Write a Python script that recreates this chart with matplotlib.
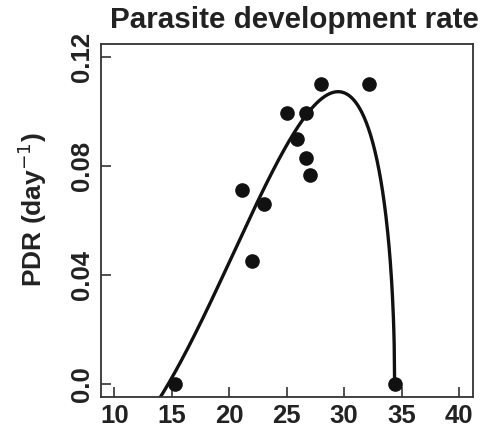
import numpy as np
import matplotlib
matplotlib.use("Agg")
import matplotlib.pyplot as plt

plt.rcParams['font.family'] = ['Liberation Sans', 'DejaVu Sans']

# Observed data points (temperature, PDR)
temp = [15.3, 21.1, 22.0, 23.0, 25.0, 25.9, 26.7, 26.7, 27.0, 28.0, 32.2, 34.4]
pdr = [0.0, 0.071, 0.045, 0.066, 0.0995, 0.090, 0.0995, 0.083, 0.0765, 0.110, 0.110, 0.0]

# Briere fit parameters
c_par = 0.000111
T0 = 14.7
Tm = 34.4

xticks = [10, 15, 20, 25, 30, 35, 40]
yticks = [0.0, 0.04, 0.08, 0.12]
ytick_labels = ["0.0", "0.04", "0.08", "0.12"]

fig = plt.figure(figsize=(4.81, 4.33), dpi=100)
ax = fig.add_axes([0.2094, 0.0838, 0.7733, 0.8146])

T = np.linspace(12.0, Tm, 600)
rate = c_par * T * (T - T0) * np.sqrt(np.clip(Tm - T, 0, None))
ax.plot(T, rate, color='#111111', lw=2.4, solid_capstyle='round')
ax.plot(temp, pdr, 'o', color='#111111', markersize=9.5, clip_on=False)

ax.set_xlim(8.8, 41.2)
ax.set_ylim(-0.0048, 0.1248)
ax.set_xticks(xticks)
ax.set_yticks(yticks)
ax.set_yticklabels(ytick_labels, rotation=90, va='center')
ax.tick_params(direction='in', length=7.5, width=1.2, color='#333333',
               labelsize=18.5, pad=5)
for lab in ax.get_xticklabels() + ax.get_yticklabels():
    lab.set_fontweight('bold')
    lab.set_color('#222222')
for s in ax.spines.values():
    s.set_color('#333333')
    s.set_linewidth(1.3)

ax.set_ylabel('PDR (day$^{-1}$)', fontsize=19, fontweight='bold', color='#222222')
ax.yaxis.set_label_coords(-0.14, 0.53)
fig.text(0.2287, 0.935, 'Parasite development rate', fontsize=21.3, fontweight='bold',
         color='#222222', ha='left', va='baseline')

fig.savefig('out.png', dpi=100)
